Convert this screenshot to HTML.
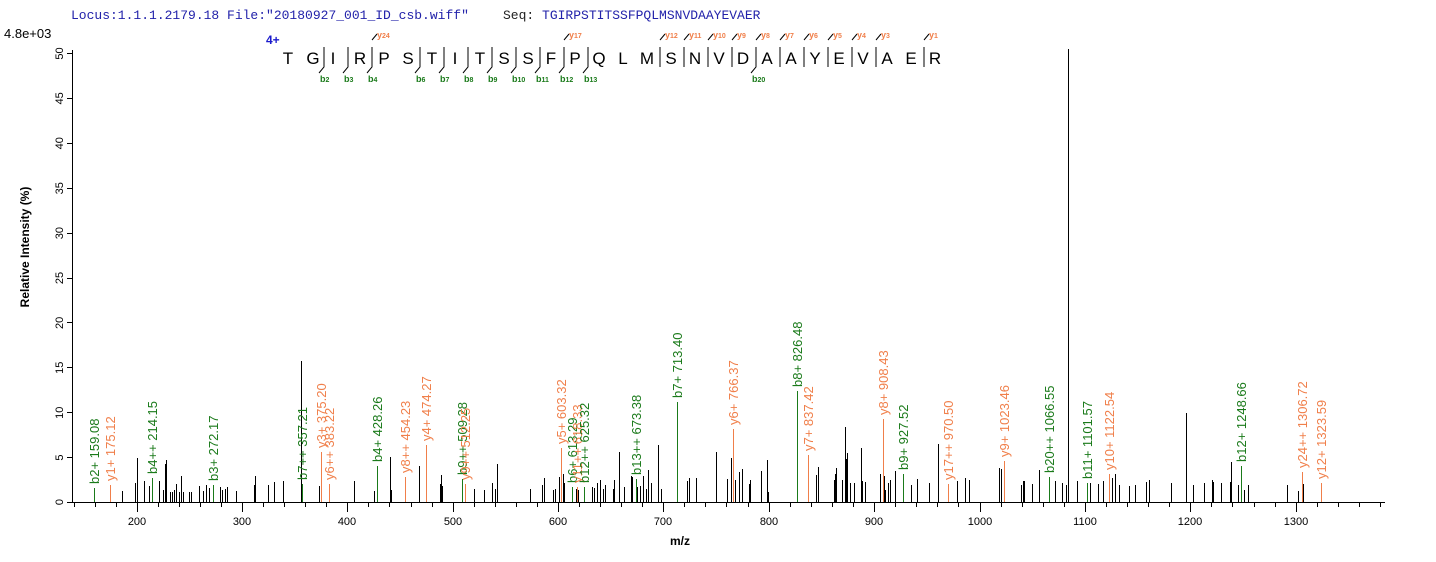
<!DOCTYPE html>
<html><head><meta charset="utf-8"><style>
body{margin:0;background:#fff;}
svg{display:block;font-family:"Liberation Sans",Arial,sans-serif;}
.g{fill:#1a7a1a}.o{fill:#f07f4a}
</style></head><body>
<svg width="1436" height="562" viewBox="0 0 1436 562" xmlns="http://www.w3.org/2000/svg">
<rect width="1436" height="562" fill="#fff"/>
<text x="71" y="19" font-family="Liberation Mono,monospace" font-size="13" fill="#2222aa">Locus:1.1.1.2179.18 File:"20180927_001_ID_csb.wiff"</text>
<text x="503" y="19" font-family="Liberation Mono,monospace" font-size="13" fill="#222">Seq: <tspan fill="#2222aa">TGIRPSTITSSFPQLMSNVDAAYEVAER</tspan></text>
<text x="4" y="38" font-size="13" fill="#000">4.8e+03</text>
<text x="266" y="44" font-size="12" font-weight="bold" fill="#1a1acc">4+</text>
<g font-size="17" fill="#000" text-anchor="middle">
<text x="288" y="64">T</text><text x="313" y="64">G</text><text x="333" y="64">I</text><text x="360" y="64">R</text><text x="384" y="64">P</text><text x="408" y="64">S</text><text x="432" y="64">T</text><text x="455" y="64">I</text><text x="480" y="64">T</text><text x="504" y="64">S</text><text x="528" y="64">S</text><text x="551" y="64">F</text><text x="575" y="64">P</text><text x="599" y="64">Q</text><text x="623" y="64">L</text><text x="647" y="64">M</text><text x="671" y="64">S</text><text x="695" y="64">N</text><text x="719" y="64">V</text><text x="743" y="64">D</text><text x="767" y="64">A</text><text x="791" y="64">A</text><text x="815" y="64">Y</text><text x="839" y="64">E</text><text x="863" y="64">V</text><text x="887" y="64">A</text><text x="911" y="64">E</text><text x="935" y="64">R</text>
</g>
<g stroke="#000" stroke-width="1" fill="none">
<path d="M324 47V67L319 73M348 47V67L343 73M372 40L377 34M372 47V67L367 73M420 47V67L415 73M444 47V67L439 73M468 47V67L463 73M492 47V67L487 73M516 47V67L511 73M540 47V67L535 73M564 40L569 34M564 47V67L559 73M588 47V67L583 73M660 40L665 34M660 47V67M684 40L689 34M684 47V67M708 40L713 34M708 47V67M732 40L737 34M732 47V67M756 40L761 34M756 47V67L751 73M780 40L785 34M780 47V67M804 40L809 34M804 47V67M828 40L833 34M828 47V67M852 40L857 34M852 47V67M876 40L881 34M876 47V67M924 40L929 34M924 47V67"/>
</g>
<g font-size="9" font-weight="bold" class="g">
<text x="320" y="82">b<tspan font-size="7">2</tspan></text><text x="344" y="82">b<tspan font-size="7">3</tspan></text><text x="368" y="82">b<tspan font-size="7">4</tspan></text><text x="416" y="82">b<tspan font-size="7">6</tspan></text><text x="440" y="82">b<tspan font-size="7">7</tspan></text><text x="464" y="82">b<tspan font-size="7">8</tspan></text><text x="488" y="82">b<tspan font-size="7">9</tspan></text><text x="512" y="82">b<tspan font-size="7">10</tspan></text><text x="536" y="82">b<tspan font-size="7">11</tspan></text><text x="560" y="82">b<tspan font-size="7">12</tspan></text><text x="584" y="82">b<tspan font-size="7">13</tspan></text><text x="752" y="82">b<tspan font-size="7">20</tspan></text>
</g>
<g font-size="9" font-weight="bold" class="o">
<text x="377" y="38">y<tspan font-size="7">24</tspan></text><text x="569" y="38">y<tspan font-size="7">17</tspan></text><text x="665" y="38">y<tspan font-size="7">12</tspan></text><text x="689" y="38">y<tspan font-size="7">11</tspan></text><text x="713" y="38">y<tspan font-size="7">10</tspan></text><text x="737" y="38">y<tspan font-size="7">9</tspan></text><text x="761" y="38">y<tspan font-size="7">8</tspan></text><text x="785" y="38">y<tspan font-size="7">7</tspan></text><text x="809" y="38">y<tspan font-size="7">6</tspan></text><text x="833" y="38">y<tspan font-size="7">5</tspan></text><text x="857" y="38">y<tspan font-size="7">4</tspan></text><text x="881" y="38">y<tspan font-size="7">3</tspan></text><text x="929" y="38">y<tspan font-size="7">1</tspan></text>
</g>
<g stroke="#000" stroke-width="1" fill="none" shape-rendering="crispEdges">
<path d="M72.5 50V503M72 502.5H1385"/>
<path d="M67 502.5H72M67 457.5H72M67 412.5H72M67 367.5H72M67 322.5H72M67 278.5H72M67 233.5H72M67 188.5H72M67 143.5H72M67 98.5H72M67 53.5H72"/>
<path d="M137.5 502V512M242.5 502V512M347.5 502V512M453.5 502V512M558.5 502V512M663.5 502V512M769.5 502V512M874.5 502V512M980.5 502V512M1085.5 502V512M1190.5 502V512M1296.5 502V512"/>
<path d="M74.5 502V507M95.5 502V507M116.5 502V507M158.5 502V507M179.5 502V507M200.5 502V507M221.5 502V507M263.5 502V507M284.5 502V507M305.5 502V507M326.5 502V507M368.5 502V507M389.5 502V507M411.5 502V507M432.5 502V507M474.5 502V507M495.5 502V507M516.5 502V507M537.5 502V507M579.5 502V507M600.5 502V507M621.5 502V507M642.5 502V507M684.5 502V507M705.5 502V507M726.5 502V507M748.5 502V507M790.5 502V507M811.5 502V507M832.5 502V507M853.5 502V507M895.5 502V507M916.5 502V507M937.5 502V507M958.5 502V507M1001.5 502V507M1022.5 502V507M1043.5 502V507M1064.5 502V507M1106.5 502V507M1127.5 502V507M1148.5 502V507M1169.5 502V507M1211.5 502V507M1232.5 502V507M1254.5 502V507M1275.5 502V507M1317.5 502V507M1338.5 502V507M1359.5 502V507M1380.5 502V507"/>
</g>
<g font-size="11" text-anchor="middle" fill="#000">
<text x="137" y="525">200</text><text x="242" y="525">300</text><text x="347" y="525">400</text><text x="453" y="525">500</text><text x="558" y="525">600</text><text x="663" y="525">700</text><text x="769" y="525">800</text><text x="874" y="525">900</text><text x="980" y="525">1000</text><text x="1085" y="525">1100</text><text x="1190" y="525">1200</text><text x="1296" y="525">1300</text>
</g>
<g font-size="11" text-anchor="middle" fill="#000">
<text transform="translate(63,502) rotate(-90)">0</text><text transform="translate(63,457.6) rotate(-90)">5</text><text transform="translate(63,412.7) rotate(-90)">10</text><text transform="translate(63,367.8) rotate(-90)">15</text><text transform="translate(63,322.9) rotate(-90)">20</text><text transform="translate(63,278) rotate(-90)">25</text><text transform="translate(63,233.1) rotate(-90)">30</text><text transform="translate(63,188.2) rotate(-90)">35</text><text transform="translate(63,143.3) rotate(-90)">40</text><text transform="translate(63,98.4) rotate(-90)">45</text><text transform="translate(63,53.5) rotate(-90)">50</text>
</g>
<text transform="translate(29,247) rotate(-90)" font-size="12" font-weight="bold" text-anchor="middle">Relative   Intensity (%)</text>
<text x="680" y="545" font-size="12" font-weight="bold" text-anchor="middle">m/z</text>
<g shape-rendering="crispEdges" transform="translate(0.5,0)">
<path stroke="#000" stroke-width="1" fill="none" d="M122 502V491M135 502V483M137 502V458M144 502V481M149 502V486M159 502V481M163 502V490M165 502V464M166 502V460M170 502V492M172 502V492M174 502V490M176 502V484M179 502V492M181 502V476M183 502V492M189 502V492M191 502V492M199 502V486M203 502V491M206 502V485M209 502V488M220 502V487M222 502V490M225 502V489M227 502V487M236 502V491M254 502V485M255 502V476M268 502V485M274 502V482M283 502V481M301 502V361M319 502V486M354 502V481M374 502V491M377 502V480M390 502V457M391 502V490M419 502V466M440 502V484M441 502V475M442 502V486M474 502V489M484 502V490M492 502V483M495 502V489M497 502V464M530 502V489M542 502V485M544 502V478M553 502V490M555 502V489M559 502V477M563 502V474M564 502V483M576 502V489M578 502V490M592 502V487M594 502V488M597 502V483M600 502V480M603 502V489M605 502V485M613 502V489M614 502V480M619 502V452M624 502V487M631 502V476M632 502V477M637 502V487M640 502V486M643 502V476M646 502V489M648 502V470M651 502V483M658 502V445M661 502V489M687 502V481M689 502V478M696 502V478M716 502V452M727 502V479M731 502V458M735 502V480M739 502V472M742 502V469M749 502V484M750 502V480M761 502V471M767 502V460M768 502V492M816 502V475M818 502V467M834 502V480M835 502V474M836 502V468M842 502V480M845 502V427M846 502V459M847 502V453M850 502V483M854 502V483M861 502V448M862 502V481M865 502V482M880 502V474M884 502V476M885 502V490M888 502V483M890 502V480M895 502V471M911 502V485M917 502V479M929 502V483M938 502V444M957 502V481M965 502V478M969 502V480M999 502V468M1001 502V469M1021 502V485M1023 502V481M1024 502V481M1032 502V484M1039 502V470M1049 502V482M1055 502V481M1062 502V483M1066 502V485M1068 502V49M1077 502V481M1090 502V483M1098 502V484M1103 502V481M1112 502V478M1115 502V474M1119 502V485M1129 502V486M1135 502V485M1146 502V482M1149 502V480M1171 502V483M1186 502V413M1193 502V485M1204 502V483M1212 502V480M1213 502V482M1221 502V483M1230 502V482M1231 502V462M1238 502V485M1244 502V490M1248 502V485M1287 502V485M1298 502V491M1302 502V472M1303 502V484M1321 502V483"/>
<path stroke="#1a7a1a" stroke-width="1" fill="none" d="M94 502V488M152 502V478M213 502V485M302 502V484M377 502V466M462 502V479M572 502V487M584 502V487M636 502V479M677 502V402M797 502V391M903 502V474M1049 502V477M1087 502V483M1241 502V466"/>
<path stroke="#f07f4a" stroke-width="1" fill="none" d="M110 502V485M321 502V452M329 502V484M405 502V477M426 502V445M465 502V484M561 502V448M577 502V487M733 502V429M808 502V455M883 502V419M948 502V484M1004 502V461M1109 502V474M1302 502V472M1321 502V483"/>
</g>
<g font-size="13">
<text class="g" transform="translate(99,484) rotate(-90)">b2+ 159.08</text>
<text class="o" transform="translate(115,481) rotate(-90)">y1+ 175.12</text>
<text class="g" transform="translate(157,474) rotate(-90)">b4++ 214.15</text>
<text class="g" transform="translate(218,481) rotate(-90)">b3+ 272.17</text>
<text class="g" transform="translate(307,480) rotate(-90)">b7++ 357.21</text>
<text class="o" transform="translate(326,448) rotate(-90)">y3+ 375.20</text>
<text class="o" transform="translate(334,480) rotate(-90)">y6++ 383.22</text>
<text class="g" transform="translate(382,462) rotate(-90)">b4+ 428.26</text>
<text class="o" transform="translate(410,473) rotate(-90)">y8++ 454.23</text>
<text class="o" transform="translate(431,441) rotate(-90)">y4+ 474.27</text>
<text class="g" transform="translate(467,475) rotate(-90)">b9++ 509.28</text>
<text class="o" transform="translate(470,480) rotate(-90)">y9++ 512.25</text>
<text class="o" transform="translate(566,444) rotate(-90)">y5+ 603.32</text>
<text class="g" transform="translate(577,483) rotate(-90)">b6+ 613.29</text>
<text class="o" transform="translate(582,483) rotate(-90)">y11++ 618.33</text>
<text class="g" transform="translate(589,483) rotate(-90)">b12++ 625.32</text>
<text class="g" transform="translate(641,475) rotate(-90)">b13++ 673.38</text>
<text class="g" transform="translate(682,398) rotate(-90)">b7+ 713.40</text>
<text class="o" transform="translate(738,425) rotate(-90)">y6+ 766.37</text>
<text class="g" transform="translate(802,387) rotate(-90)">b8+ 826.48</text>
<text class="o" transform="translate(813,451) rotate(-90)">y7+ 837.42</text>
<text class="o" transform="translate(888,415) rotate(-90)">y8+ 908.43</text>
<text class="g" transform="translate(908,470) rotate(-90)">b9+ 927.52</text>
<text class="o" transform="translate(953,480) rotate(-90)">y17++ 970.50</text>
<text class="o" transform="translate(1009,457) rotate(-90)">y9+ 1023.46</text>
<text class="g" transform="translate(1054,473) rotate(-90)">b20++ 1066.55</text>
<text class="g" transform="translate(1092,479) rotate(-90)">b11+ 1101.57</text>
<text class="o" transform="translate(1114,470) rotate(-90)">y10+ 1122.54</text>
<text class="g" transform="translate(1246,462) rotate(-90)">b12+ 1248.66</text>
<text class="o" transform="translate(1307,468) rotate(-90)">y24++ 1306.72</text>
<text class="o" transform="translate(1326,479) rotate(-90)">y12+ 1323.59</text>
</g>
</svg>
</body></html>
